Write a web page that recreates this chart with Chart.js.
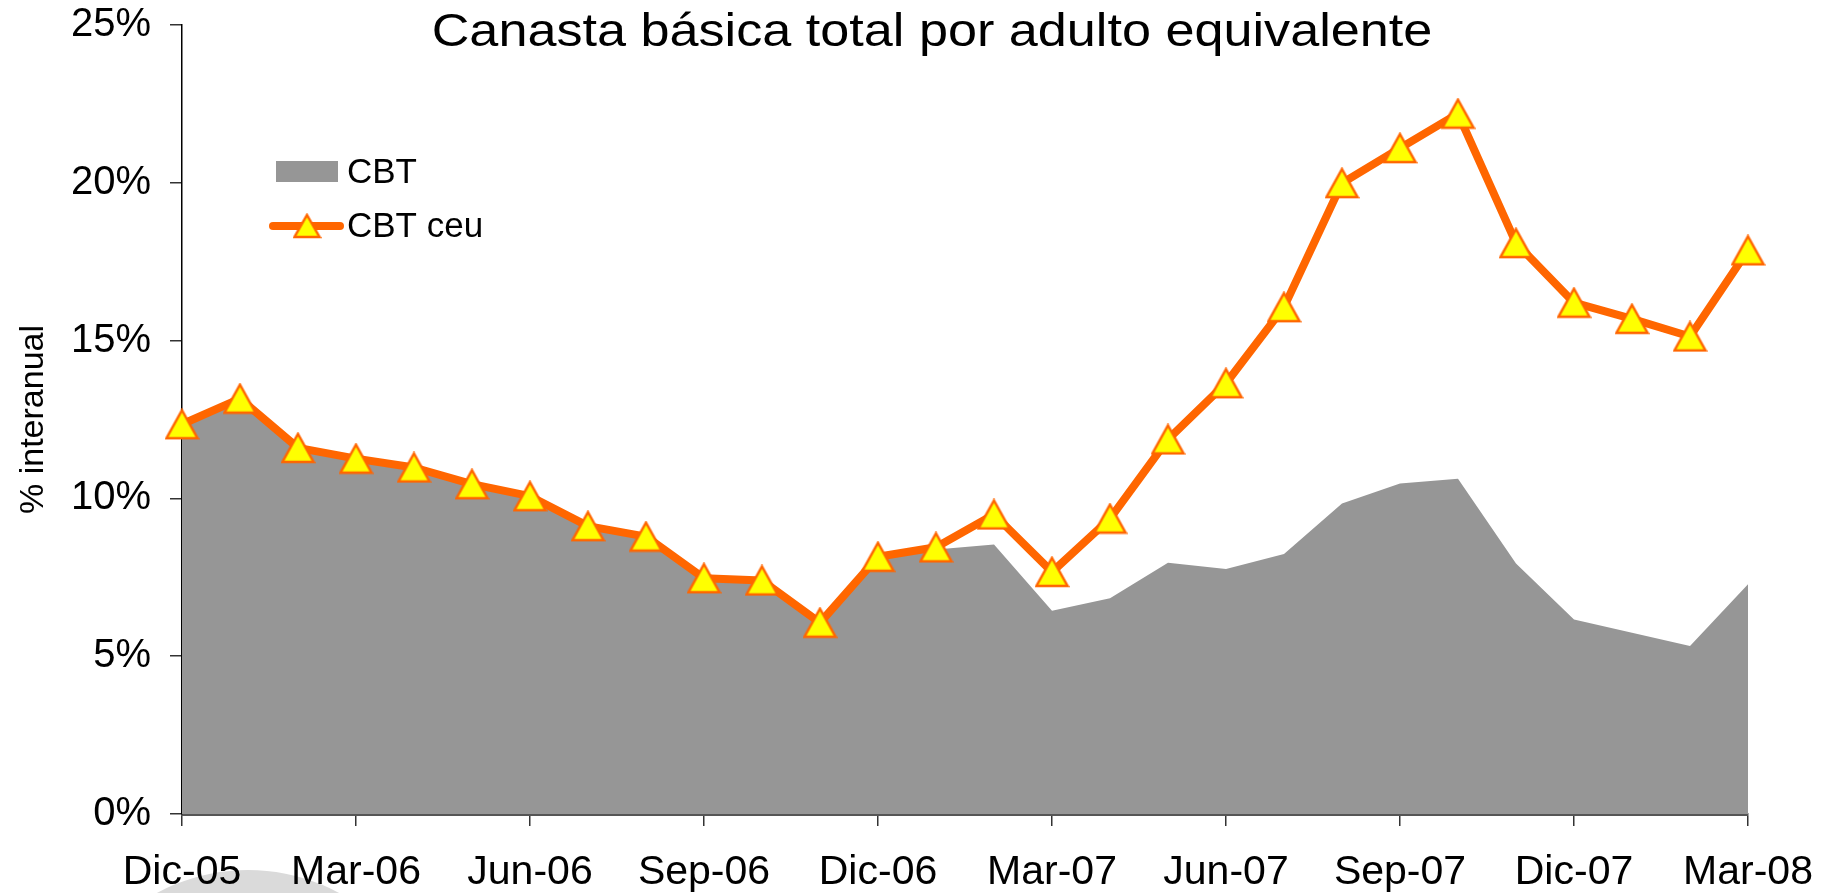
<!DOCTYPE html>
<html lang="es">
<head>
<meta charset="utf-8">
<title>Canasta básica total por adulto equivalente</title>
<script src="https://cdn.jsdelivr.net/npm/chart.js@4.4.1/dist/chart.umd.min.js"></script>
<style>
  html, body { margin: 0; padding: 0; background: #fff; }
  #wrap { width: 1837px; height: 893px; position: relative; overflow: hidden; }
  #cbtChart { display: block; margin-top: -6px; }
</style>
</head>
<body>
<div id="wrap"><canvas id="cbtChart" width="1837" height="899"></canvas></div>
<script>
// Canasta básica total — variación interanual

// ── Data ──────────────────────────────────────────────────────────────────────

const MONTHS = [
  'Dic-05', 'Ene-06', 'Feb-06', 'Mar-06', 'Abr-06', 'May-06', 'Jun-06',
  'Jul-06', 'Ago-06', 'Sep-06', 'Oct-06', 'Nov-06', 'Dic-06', 'Ene-07',
  'Feb-07', 'Mar-07', 'Abr-07', 'May-07', 'Jun-07', 'Jul-07', 'Ago-07',
  'Sep-07', 'Oct-07', 'Nov-07', 'Dic-07', 'Ene-08', 'Feb-08', 'Mar-08',
];

const CBT = [
  12.35, 13.16, 11.60, 11.26, 10.98, 10.45, 10.07,
  9.12, 8.79, 7.47, 7.40, 6.06, 8.15, 8.38,
  8.54, 6.44, 6.84, 7.96, 7.76, 8.24, 9.84,
  10.47, 10.62, 7.94, 6.16, 5.74, 5.32, 7.28,
];

const CBT_CEU = [
  12.35, 13.16, 11.60, 11.26, 10.98, 10.45, 10.07,
  9.12, 8.79, 7.47, 7.40, 6.06, 8.15, 8.45,
  9.49, 7.67, 9.36, 11.87, 13.65, 16.06, 19.99,
  21.10, 22.19, 18.09, 16.20, 15.69, 15.13, 17.86,
];

// only quarterly labels on the x axis
const X_LABELS = ['Dic-05', 'Mar-06', 'Jun-06', 'Sep-06', 'Dic-06', 'Mar-07', 'Jun-07', 'Sep-07', 'Dic-07', 'Mar-08'];

const TITLE = 'Canasta básica total por adulto equivalente';
const Y_TITLE = '% interanual';

// ── Styles ────────────────────────────────────────────────────────────────────

const FONT = '"Liberation Sans", Arial, Helvetica, sans-serif';
const GREY = '#969696';
const ORANGE = '#ff6600';
const YELLOW = '#ffff00';

Chart.defaults.font.family = FONT;
Chart.defaults.color = '#000';

// triangle marker, centred on its bounding box like the spreadsheet ones
function makeTriangle(w, h) {
  const c = document.createElement('canvas');
  c.width = w + 4;
  c.height = h + 4;
  const g = c.getContext('2d');
  g.beginPath();
  g.moveTo(c.width / 2, 2);
  g.lineTo(c.width - 2, h + 2);
  g.lineTo(2, h + 2);
  g.closePath();
  g.fillStyle = YELLOW;
  g.fill();
  g.lineWidth = 2.5;
  g.lineJoin = 'miter';
  g.strokeStyle = ORANGE;
  g.stroke();
  return c;
}

const MARKER = makeTriangle(31, 28);
const LEGEND_MARKER = makeTriangle(25, 22);

// ── Plugins ───────────────────────────────────────────────────────────────────

const backdrop = {
  id: 'backdrop',
  beforeDraw(chart) {
    const { ctx, chartArea } = chart;
    ctx.save();
    ctx.fillStyle = '#dadada';
    ctx.beginPath();
    ctx.arc(chartArea.left + 66, chart.height + 169, 192, 0, Math.PI * 2);
    ctx.fill();
    ctx.restore();
  },
};

const overlay = {
  id: 'overlay',
  afterDraw(chart) {
    const { ctx, chartArea } = chart;
    ctx.save();

    // title sits inside the plot, over the top edge (slightly widened, as in the slide)
    ctx.fillStyle = '#000';
    ctx.font = `47px ${FONT}`;
    ctx.textAlign = 'center';
    ctx.textBaseline = 'alphabetic';
    ctx.save();
    ctx.translate(chartArea.left + 750, chartArea.top + 21);
    ctx.scale(1.11, 1);
    ctx.fillText(TITLE, 0, 0);
    ctx.restore();

    // legend
    const lx = chartArea.left + 94;
    const y1 = chartArea.top + 147;
    const y2 = chartArea.top + 201;
    ctx.fillStyle = GREY;
    ctx.fillRect(lx, y1 - 11, 62, 21);

    ctx.strokeStyle = ORANGE;
    ctx.lineWidth = 8;
    ctx.lineCap = 'round';
    ctx.beginPath();
    ctx.moveTo(lx - 3, y2);
    ctx.lineTo(lx + 64, y2);
    ctx.stroke();
    ctx.drawImage(LEGEND_MARKER, lx + 31 - LEGEND_MARKER.width / 2, y2 - LEGEND_MARKER.height / 2);

    ctx.fillStyle = '#000';
    ctx.font = `35px ${FONT}`;
    ctx.textAlign = 'left';
    ctx.textBaseline = 'middle';
    ctx.fillText('CBT', lx + 71, y1 + 1);
    ctx.fillText('CBT ceu', lx + 71, y2 + 1);

    ctx.restore();
  },
};

// ── Chart ─────────────────────────────────────────────────────────────────────

function buildChart() {
  const ctx = document.getElementById('cbtChart').getContext('2d');

  new Chart(ctx, {
    type: 'line',
    data: {
      labels: MONTHS,
      datasets: [
        {
          label: 'CBT',
          data: CBT,
          order: 2,
          fill: 'origin',
          backgroundColor: GREY,
          borderColor: 'rgba(0,0,0,0)',
          borderWidth: 0,
          pointRadius: 0,
          tension: 0,
        },
        {
          label: 'CBT ceu',
          data: CBT_CEU,
          order: 1,
          fill: false,
          borderColor: ORANGE,
          borderWidth: 8,
          borderJoinStyle: 'round',
          pointStyle: MARKER,
          pointRadius: 15,
          tension: 0,
          clip: false,
        },
      ],
    },
    options: {
      responsive: false,
      animation: false,
      devicePixelRatio: 1,
      layout: { padding: { top: 24, right: 89, left: 0, bottom: 0 } },
      plugins: {
        legend: { display: false },
        title: { display: false },
        tooltip: { enabled: false },
      },
      scales: {
        x: {
          offset: false,
          border: { color: '#555', width: 3 },
          grid: { drawOnChartArea: false, tickLength: 12, color: '#333', lineWidth: 1.5 },
          ticks: {
            autoSkip: false,
            maxRotation: 0,
            padding: 22,
            font: { size: 41 },
            color: '#000',
            callback(v) {
              const label = this.getLabelForValue(v);
              return X_LABELS.includes(label) ? label : null;
            },
          },
          afterFit(scale) { scale.height = 79; },
        },
        y: {
          min: 0,
          max: 25,
          border: { color: '#000', width: 1.5 },
          grid: { drawOnChartArea: false, tickLength: 12, color: '#333', lineWidth: 1.5 },
          ticks: {
            stepSize: 5,
            padding: 19,
            font: { size: 40, lineHeight: 0.6 },
            color: '#000',
            callback: (v) => `${v}%`,
          },
          title: {
            display: true,
            text: Y_TITLE,
            font: { size: 34 },
            color: '#000',
            padding: { top: 13, bottom: 0 },
          },
          afterFit(scale) { scale.width = 182; },
        },
      },
    },
    plugins: [backdrop, overlay],
  });
}

buildChart();
</script>
</body>
</html>
